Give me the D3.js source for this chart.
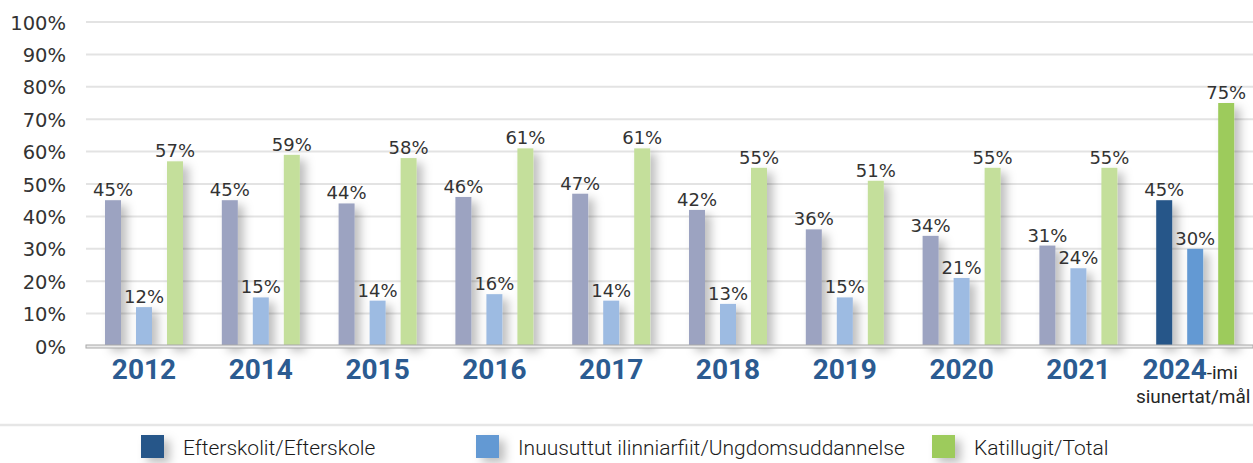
<!DOCTYPE html>
<html>
<head>
<meta charset="utf-8">
<script src="https://cdn.jsdelivr.net/npm/d3@7"></script>
<style>
  body { margin: 0; background: #fff; }
  svg { display: block; }
</style>
</head>
<body>
<script>
// chart data
var years = ["2012", "2014", "2015", "2016", "2017", "2018", "2019", "2020", "2021", "2024"];
var efterskole = [45, 45, 44, 46, 47, 42, 36, 34, 31, 45];
var ungdom = [12, 15, 14, 16, 14, 13, 15, 21, 24, 30];
var total = [57, 59, 58, 61, 61, 55, 51, 55, 55, 75];
var yTicks = [0, 10, 20, 30, 40, 50, 60, 70, 80, 90, 100];
var seriesNames = ["Efterskolit/Efterskole", "Inuusuttut ilinniarfiit/Ungdomsuddannelse", "Katillugit/Total"];
var goalSuffix = "-imi";
var goalLine2 = "siunertat/mål";

var width = 1253, height = 463;
var colorsStrong = ["#285689", "#6399d3", "#9dcb5b"];
var colorsFaded = ["#9ca3c1", "#9dbbe2", "#c4df9b"];
var labelFont = "DejaVu Sans, sans-serif";

var svg = d3.select("body").append("svg").attr("width", width).attr("height", height);

// soft shadow behind bars
var defs = svg.append("defs");
var f = defs.append("filter").attr("id", "shadow")
  .attr("x", "-100%").attr("y", "-20%").attr("width", "400%").attr("height", "160%");
f.append("feDropShadow").attr("dx", 6).attr("dy", 5).attr("stdDeviation", 5)
  .attr("flood-color", "#000").attr("flood-opacity", 0.25);

var x = d3.scaleBand().domain(years).range([85.6, 1253.6]);
var xs = d3.scalePoint().domain([0, 1, 2]).range([-31, 31]);
var y = d3.scaleLinear().domain([0, 100]).range([346, 22]);
var barW = 16;

// gridlines
svg.append("g").selectAll("line").data(yTicks.slice(1)).enter().append("line")
  .attr("x1", 86).attr("x2", width)
  .attr("y1", function (d) { return y(d); }).attr("y2", function (d) { return y(d); })
  .attr("stroke", "#e3e3e3").attr("stroke-width", 2);

// y axis labels
var yAxis = d3.axisLeft(y).tickValues(yTicks).tickSize(0).tickPadding(0)
  .tickFormat(function (d) { return d + "%"; });
var ya = svg.append("g").attr("transform", "translate(66,0)").call(yAxis);
ya.select(".domain").remove();
ya.selectAll("text").attr("font-family", labelFont).attr("font-weight", "normal")
  .attr("font-size", 19.5).attr("fill", "#333").attr("dy", "0.36em");

// bars
var rows = [];
years.forEach(function (yr, i) {
  [efterskole[i], ungdom[i], total[i]].forEach(function (v, s) {
    rows.push({ year: yr, s: s, v: v, goal: i === years.length - 1 });
  });
});

svg.append("g").attr("filter", "url(#shadow)").selectAll("rect").data(rows).enter().append("rect")
  .attr("x", function (d) { return x(d.year) + x.bandwidth() / 2 + xs(d.s) - barW / 2; })
  .attr("y", function (d) { return y(d.v); })
  .attr("width", barW)
  .attr("height", function (d) { return y(0) - y(d.v); })
  .attr("fill", function (d) { return d.goal ? colorsStrong[d.s] : colorsFaded[d.s]; });

// baseline
svg.append("rect").attr("x", 86).attr("y", 345).attr("width", width - 86).attr("height", 3)
  .attr("fill", "#ececec").attr("stroke", "#a8a8a8").attr("stroke-width", 1);

// value labels
svg.append("g").selectAll("text").data(rows).enter().append("text")
  .attr("x", function (d) { return x(d.year) + x.bandwidth() / 2 + xs(d.s); })
  .attr("y", function (d) { return y(d.v) - 4; })
  .attr("text-anchor", "middle")
  .attr("font-family", labelFont).attr("font-weight", "normal")
  .attr("font-size", 18).attr("fill", "#333")
  .text(function (d) { return d.v + "%"; });

// year labels
var yl = svg.append("g").selectAll("text").data(years).enter().append("text")
  .attr("x", function (d, i) { return x(d) + x.bandwidth() / 2 - (i === years.length - 1 ? 5 : 0); })
  .attr("y", 379)
  .attr("text-anchor", "middle")
  .attr("font-family", "Roboto, sans-serif");
yl.append("tspan").attr("font-weight", "bold").attr("font-size", 28).attr("fill", "#2b5b91")
  .text(function (d) { return d; });
yl.filter(function (d, i) { return i === years.length - 1; }).append("tspan")
  .attr("font-size", 19).attr("fill", "#262626").text(goalSuffix);
svg.append("text")
  .attr("x", x(years[years.length - 1]) + x.bandwidth() / 2 - 2).attr("y", 403)
  .attr("text-anchor", "middle").attr("font-family", "Roboto, sans-serif")
  .attr("font-size", 19).attr("fill", "#262626").text(goalLine2);

// legend separator
svg.append("line").attr("x1", 0).attr("x2", width).attr("y1", 425).attr("y2", 425)
  .attr("stroke", "#e6e6e6").attr("stroke-width", 2.5);

// legend
var legX = [141, 476, 932];
var leg = svg.append("g").selectAll("g").data(seriesNames).enter().append("g")
  .attr("transform", function (d, i) { return "translate(" + legX[i] + ",435)"; });
leg.append("rect").attr("width", 23).attr("height", 23).attr("filter", "url(#shadow)")
  .attr("fill", function (d, i) { return colorsStrong[i]; });
leg.append("text").attr("x", 42).attr("y", 20)
  .attr("font-family", "Roboto, sans-serif").attr("font-weight", 300)
  .attr("font-size", 21).attr("fill", "#1a1a1a")
  .text(function (d) { return d; });
</script>
</body>
</html>
